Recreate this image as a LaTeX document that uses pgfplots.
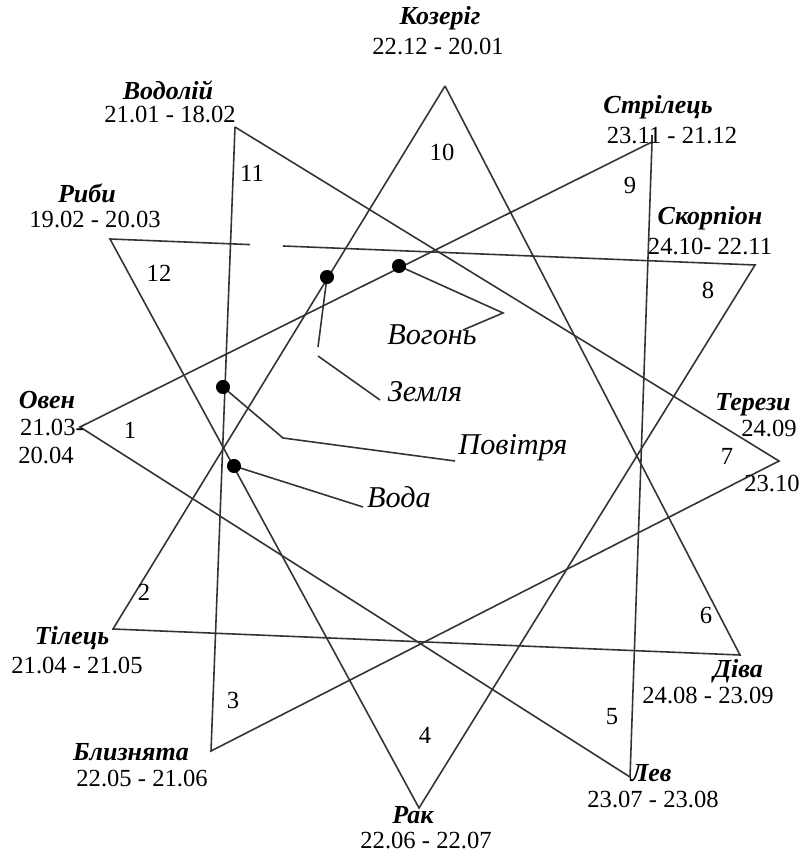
\documentclass[border=0pt]{standalone}
\usepackage{fontspec}
\setmainfont{Liberation Serif}
\usepackage{pgfplots}
\pgfplotsset{compat=1.18}
\begin{document}
\begin{tikzpicture}
\begin{axis}[
  scale only axis, width=7.98cm, height=8.55cm,
  xmin=0, xmax=798, ymin=0, ymax=855, y dir=reverse,
  hide axis, clip=false,
  ln/.style={line width=0.45pt, color=black!80, mark=none, solid},
]
\path (axis cs:0,0) rectangle (axis cs:798,855);
% Earth: Capricorn - Taurus - Virgo
\addplot[ln] coordinates {(445,86) (113,629) (740,655) (445,86)};
% Fire: Sagittarius - Aries - Leo
\addplot[ln] coordinates {(652,135) (652,142) (80,427) (630,777) (652,142)};
% Air: Aquarius - Gemini - Libra
\addplot[ln] coordinates {(235,127) (211,751) (779,461) (235,127)};
% Water: Pisces - Cancer - Scorpio
\addplot[ln] coordinates {(250,244.6) (110,239) (419,808) (755,265) (283,246)};
% leader lines
\addplot[ln] coordinates {(399,266) (503,313) (463,330)};
\addplot[ln] coordinates {(327,277) (318,347)};
\addplot[ln] coordinates {(318,356) (380,400)};
\addplot[ln] coordinates {(223,387) (283,438) (455,461)};
\addplot[ln] coordinates {(234,466) (363,507)};
% dots
\addplot[only marks, mark=*, mark size=1.8pt, black] coordinates {(399,266) (327,277) (223,387) (234,466)};

\begin{scope}[every node/.style={font=\fontsize{7}{8}\selectfont, inner sep=0pt}]
\newcommand{\nm}[2]{\node[font=\fontsize{7.4}{8}\selectfont\bfseries\itshape] at (axis cs:#1) {#2};}
\nm{440,18}{Козеріг}
\node at (axis cs:438,47) {22.12 - 20.01};
\nm{168,90}{Водолій}
\node at (axis cs:170,115) {21.01 - 18.02};
\nm{87,193}{Риби}
\node at (axis cs:95,220) {19.02 - 20.03};
\nm{658,107}{Стрілець}
\node at (axis cs:672,136) {23.11 - 21.12};
\nm{710,218}{Скорпіон}
\node at (axis cs:710,247) {24.10- 22.11};
\nm{753,405}{Терези}
\node at (axis cs:769,428) {24.09};
\node at (axis cs:772,483) {23.10};
\nm{47,400}{Овен}
\node at (axis cs:52,427) {21.03-};
\node at (axis cs:46,455) {20.04};
\nm{72,638}{Тілець}
\node at (axis cs:77,665) {21.04 - 21.05};
\nm{131,752}{Близнята}
\node at (axis cs:142,778) {22.05 - 21.06};
\nm{413,815}{Рак}
\node at (axis cs:426,840) {22.06 - 22.07};
\nm{651,773}{Лев}
\node at (axis cs:653,799) {23.07 - 23.08};
\nm{738,671}{Діва}
\node at (axis cs:708,695) {24.08 - 23.09};
% sector numbers
\node at (axis cs:130,430) {1};
\node at (axis cs:144,592) {2};
\node at (axis cs:233,700) {3};
\node at (axis cs:425,735) {4};
\node at (axis cs:612,717) {5};
\node at (axis cs:706,615) {6};
\node at (axis cs:727,456) {7};
\node at (axis cs:708,290) {8};
\node at (axis cs:630,185) {9};
\node at (axis cs:442,152) {10};
\node at (axis cs:252,173) {11};
\node at (axis cs:159,273) {12};
% elements
\begin{scope}[every node/.style={font=\fontsize{8.6}{9}\selectfont\itshape, inner sep=0pt}]
\node at (axis cs:432,335) {Вогонь};
\node at (axis cs:425,392) {Земля};
\node at (axis cs:513,448) {Повітря};
\node at (axis cs:399,497) {Вода};
\end{scope}
\end{scope}
\end{axis}
\end{tikzpicture}
\end{document}
